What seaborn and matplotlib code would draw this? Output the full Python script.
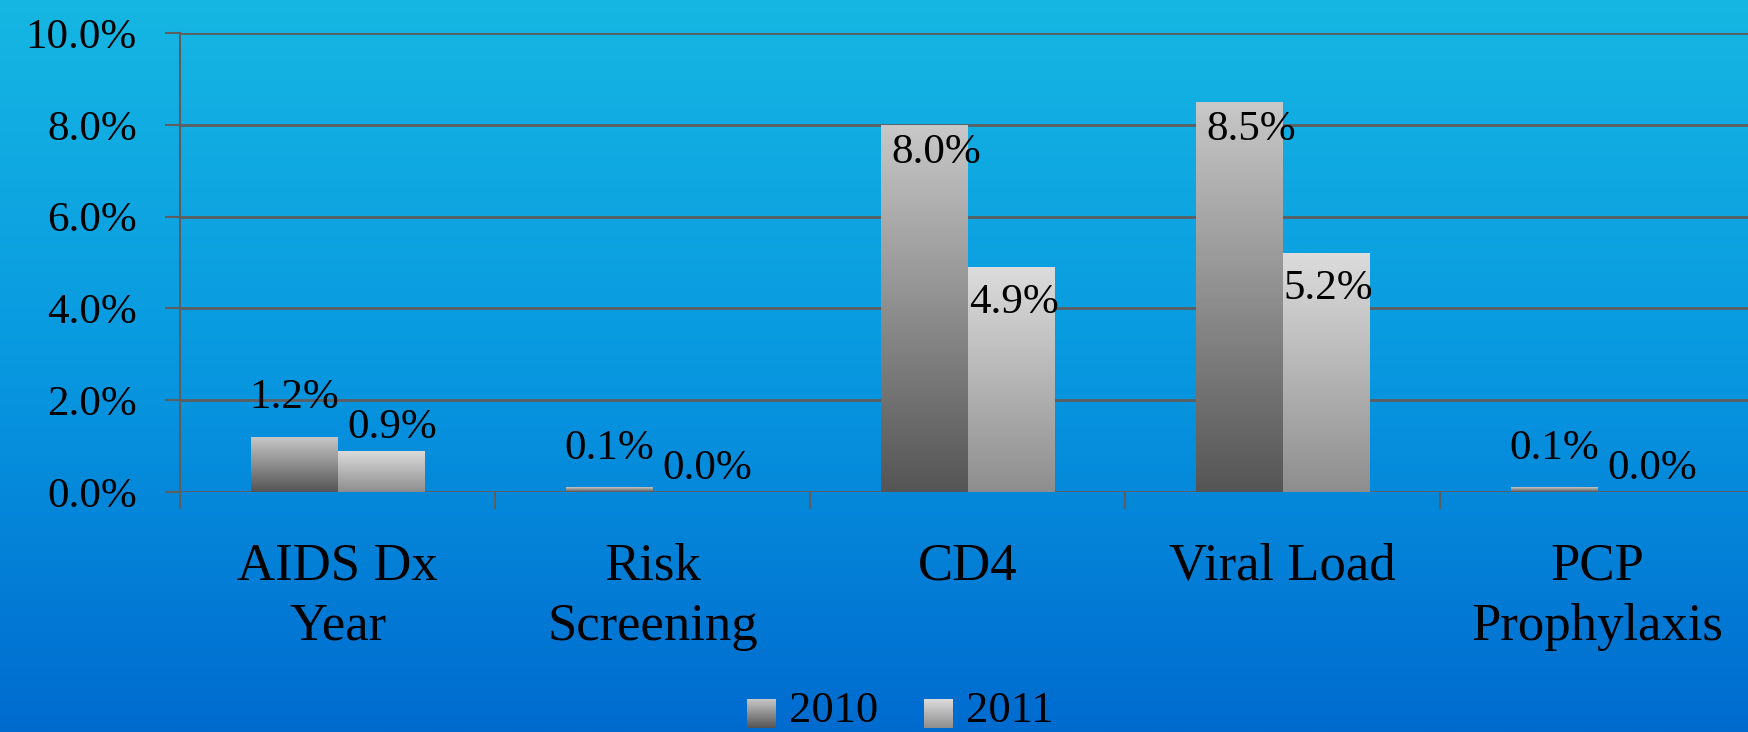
import numpy as np
import pandas as pd
import matplotlib
matplotlib.use("Agg")
import matplotlib.pyplot as plt
import seaborn as sns
from matplotlib.colors import LinearSegmentedColormap

# данные
categories = ["AIDS Dx\nYear", "Risk\nScreening", "CD4", "Viral Load", "PCP\nProphylaxis"]
years = ["2010", "2011"]
vals_2010 = [1.2, 0.1, 8.0, 8.5, 0.1]
vals_2011 = [0.9, 0.0, 4.9, 5.2, 0.0]
y_ticks = [0, 2, 4, 6, 8, 10]

df = pd.DataFrame({
    "category": categories * 2,
    "year": [years[0]] * 5 + [years[1]] * 5,
    "value": vals_2010 + vals_2011,
})

sns.set_theme(style="white")
plt.rcParams["font.family"] = ["Liberation Serif", "DejaVu Serif"]

W, H = 1748, 732
fig = plt.figure(figsize=(W / 100, H / 100), dpi=100)

# фон-градиент
bg = fig.add_axes([0, 0, 1, 1], zorder=0)
bg_cmap = LinearSegmentedColormap.from_list("bg", ["#006BCF", "#0898E0", "#16B7E3"])
bg.imshow(np.linspace(0, 1, 256).reshape(-1, 1), aspect="auto", cmap=bg_cmap,
          origin="lower", extent=[0, 1, 0, 1])
bg.set_axis_off()

ax = fig.add_axes([180 / W, 1 - 492 / H, 1575 / W, 459 / H], zorder=1)
ax.patch.set_alpha(0)

sns.barplot(data=df, x="category", y="value", hue="year", width=0.55,
            palette=["#777777", "#BBBBBB"], ax=ax, legend=False, zorder=3)

ax.set_xlim(-0.5, 4.5)
ax.set_ylim(0, 10)

grads = {
    0: LinearSegmentedColormap.from_list("g10", ["#555555", "#C8C8C8"]),
    1: LinearSegmentedColormap.from_list("g11", ["#8E8E8E", "#DCDCDC"]),
}
grad = np.linspace(0, 1, 128).reshape(-1, 1)

# смещения подписей (в пунктах) для 2010 / 2011
lbl_in = {0: (9, -6), 1: (2, -12)}
lbl_out = {0: (0, 14), 1: (8, 3)}

bars = ax.patches[:10]
for i, p in enumerate(bars):
    h_idx = i // 5
    x0, y0 = p.get_x(), p.get_y()
    w, h = p.get_width(), p.get_height()
    v = vals_2010[i % 5] if h_idx == 0 else vals_2011[i % 5]
    cx = x0 + w / 2
    if v >= 4:
        ax.annotate(f"{v:.1f}%", (cx, v), xytext=lbl_in[h_idx], textcoords="offset points",
                    ha="center", va="top", fontsize=31, color="black", zorder=5)
    else:
        ax.annotate(f"{v:.1f}%", (cx, v), xytext=lbl_out[h_idx], textcoords="offset points",
                    ha="center", va="bottom", fontsize=31, color="black", zorder=5)
    if h <= 0:
        p.set_visible(False)
        continue
    hh = max(h, 0.06)
    p.set_height(hh)
    p.set_facecolor("none")
    p.set_edgecolor("none")
    im = ax.imshow(grad, aspect="auto", cmap=grads[h_idx], origin="lower",
                   extent=[x0, x0 + w, y0, y0 + hh], zorder=3)
    im.set_clip_path(p)

# оси и сетка
grid_c = "#5E5E5E"
ax.set_yticks(y_ticks)
ax.set_yticklabels([f"{t:.1f}%" for t in y_ticks], fontsize=31, color="black")
for t in y_ticks:
    ax.axhline(t, color=grid_c, lw=2, zorder=2)
ax.tick_params(axis="y", length=11, width=1.5, color=grid_c, pad=20, left=True)

ax.set_xticks(np.arange(-0.5, 5, 1))
ax.set_xticklabels([])
ax.set_xticks(range(5), minor=True)
ax.set_xticklabels(categories, minor=True, fontsize=38, color="black", linespacing=1.35)
ax.tick_params(axis="x", which="major", length=12, width=1.5, color=grid_c, bottom=True)
ax.tick_params(axis="x", which="minor", length=0, pad=36)
ax.set_xlabel("")
ax.set_ylabel("")

for s in ["top", "right", "bottom"]:
    ax.spines[s].set_visible(False)
ax.spines["left"].set_color(grid_c)
ax.spines["left"].set_linewidth(1.5)

# легенда
lg_ax = fig.add_axes([0, 0, 1, 1], zorder=2)
lg_ax.set_axis_off()
for j, yr in enumerate(years):
    mx = 747 + j * 177
    lg_ax.imshow(grad[::-1], aspect="auto", cmap=grads[j], origin="upper",
                 extent=[mx, mx + 29, 728, 699])
    lg_ax.text(mx + 42, 711, yr, fontsize=32, va="center", ha="left", color="black")
lg_ax.set_xlim(0, W)
lg_ax.set_ylim(H, 0)

fig.savefig("out.png", dpi=100)
